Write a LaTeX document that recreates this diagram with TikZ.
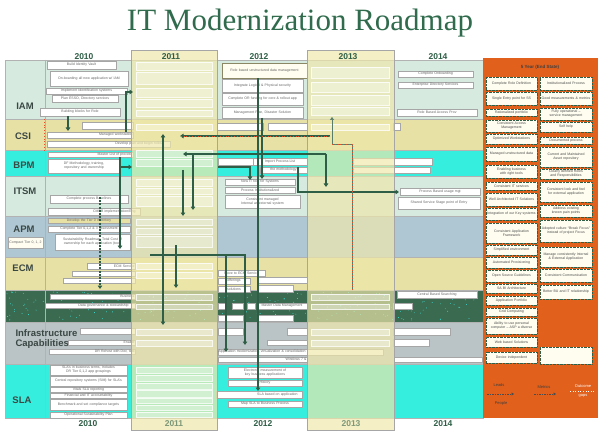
\documentclass[tikz,border=0pt]{standalone}
\usepackage{fontspec}
\setmainfont{Liberation Sans}
\newfontfamily\headserif{Liberation Serif}
\usetikzlibrary{arrows.meta}
\hyphenpenalty=10000
\exhyphenpenalty=10000
\definecolor{mint}{HTML}{D6EADF}
\definecolor{khaki}{HTML}{E8E1A6}
\definecolor{aqua}{HTML}{36EEDD}
\definecolor{steel}{HTML}{AFC7D3}
\definecolor{forest}{HTML}{3A6A50}
\definecolor{slate}{HTML}{BAC3C5}
\definecolor{veil}{HTML}{EFE8AA}
\definecolor{rust}{HTML}{E0601C}
\definecolor{ink}{HTML}{2E5E46}
\definecolor{ttl}{HTML}{2F6B4C}
\definecolor{paper}{HTML}{FFFDF0}
\definecolor{lblgray}{HTML}{3A4844}
\definecolor{ember}{HTML}{E8502A}
\definecolor{speck}{HTML}{3FE8E0}
% box given by its corners: [options]{name}{x1}{y1}{x2}{y2}{text}
\newcommand\bx[7][]{%
  \pgfmathsetmacro\bxw{#5-#3-1}%
  \pgfmathsetmacro\bxh{#6-#4}%
  \node[itm,text width=\bxw pt,minimum height=\bxh pt,#1] (#2) at ({(#3+#5)/2},{(#4+#6)/2}) {#7};}
\begin{document}
\begin{tikzpicture}[x=1pt,y=-1pt,
  itm/.style={draw=black!35,fill=white,font=\fontsize{3.5}{4}\selectfont,text=black!60,
    align=center,inner xsep=0.5pt,inner ysep=0.2pt,line width=0.4pt},
  obox/.style={itm,draw=ink,densely dotted,line width=0.9pt,fill=paper,text=black!70},
  ghost/.style={itm,draw=white,fill=white,fill opacity=0.35,draw opacity=0.8},
  rowlbl/.style={font=\bfseries\fontsize{9.5}{10}\selectfont,text=lblgray},
  yr/.style={font=\bfseries\fontsize{8.5}{9}\selectfont,text=ink},
  conn/.style={draw=ink,line width=1.4pt,-{Triangle[length=3.5pt,width=4.5pt]}},
  wire/.style={draw=ink!80,line width=0.7pt},
  emberdots/.style={draw=ember,line width=0.8pt,dotted},
  sep/.style={draw=black!30,line width=0.4pt},
  leg/.style={font=\fontsize{4}{4.5}\selectfont,text=black!75}]
\useasboundingbox (0,0) rectangle (600,433);
\fill[white] (0,0) rectangle (600,433);

% title
\node[font=\headserif\fontsize{31}{31}\selectfont,text=ttl] (title) at (300,23) {IT Modernization Roadmap};

% row bands
\fill[mint]   (5,60)  rectangle (483,119);
\fill[khaki]  (5,119) rectangle (483,150);
\fill[aqua]   (5,150) rectangle (483,176);
\fill[mint]   (5,176) rectangle (483,216);
\fill[steel]  (5,216) rectangle (483,257);
\fill[khaki]  (5,257) rectangle (483,290);
\fill[forest] (5,290) rectangle (483,322);
\fill[slate]  (5,322) rectangle (483,364);
\fill[aqua]   (5,364) rectangle (483,418);
% speckles on the dark band
\pgfmathsetseed{11}
\foreach \i in {1,...,260} {
  \pgfmathsetmacro\sx{7+474*rnd}
  \pgfmathsetmacro\sy{292+28*rnd}
  \fill[speck] (\sx,\sy) circle (0.45pt);
}
\foreach \yy in {119,150,176,216,257,290,322,364}
  \draw[sep] (5,\yy) -- (483,\yy);
\draw[sep] (5,60) rectangle (483,418);
\draw[sep] (45,60) -- (45,418);
\draw[sep] (217,60) -- (217,418);
\draw[sep] (394,60) -- (394,418);
\draw[emberdots] (44,119) -- (44,150);

% row labels
\node[rowlbl] (lIAM) at (25,106) {IAM};
\node[rowlbl] (lCSI) at (23,136) {CSI};
\node[rowlbl] (lBPM) at (24,165) {BPM};
\node[rowlbl] (lITSM) at (25,191) {ITSM};
\node[rowlbl] (lAPM) at (24,229) {APM};
\node[rowlbl] (lECM) at (23,268) {ECM};
\node[rowlbl,align=left,anchor=west] (lINF) at (12,339) {Infrastructure\\Capabilities};
\node[rowlbl] (lSLA) at (22,400) {SLA};
\bx[fill=paper]{ctier}{8}{237}{43}{248}{Compact Tier 0, 1, 2}

% 2010
\bx{b1}{47}{61}{116}{69}{Build Identity Vault}
\bx{b2}{50}{71}{128}{86}{On-boarding all new application w/ IAM}
\bx{b3}{46}{88}{127}{94}{Implement Identification systems}
\bx{b4}{52}{95}{118}{102}{Plan ESSO, Directory services}
\bx{b5}{40}{108}{120}{116}{Building blocks for Role}
\bx{c1}{82}{122}{133}{129}{}
\bx[align=right]{c2}{47}{132}{133}{138}{Managed workstation}
\bx[align=right]{c3}{47}{141}{170}{147}{Develop plan and begin rollout\hspace*{6pt}}
\bx[align=right]{p1}{48}{152}{133}{157}{Master List of process}
\bx{p2}{48}{159}{120}{173}{DF Methodology, training, repository and ownership}
\bx{s1}{50}{195}{128}{203}{Complete process Baselines}
\bx[align=right]{s2}{48}{208}{140}{215}{CMDB implementation/Eng\hspace*{4pt}}
\bx[fill=khaki]{a1}{48}{218}{130}{223}{Develop the Tier 0 inventory}
\bx{a2}{48}{226}{130}{232}{Complete Tier 0,1,2 \& 3 assessment}
\bx{a3}{55}{234}{130}{250}{Sustainability Roadmap; Total Cost of ownership for each application (tool)}
\bx[align=right]{e1}{87}{263}{135}{269}{ECM Service}
\bx{e2}{72}{271}{135}{276}{}
\bx{e3}{63}{278}{135}{283}{}
\bx[align=right]{d1}{50}{294}{135}{299}{Business}
\bx[align=right]{d2}{45}{303}{135}{308}{Data governance \& stewardship\hspace*{6pt}}
\bx{i1}{80}{328}{135}{334}{}
\bx[align=right]{i2}{68}{340}{135}{345}{Enable}
\bx[align=right]{i3}{49}{349}{135}{354}{DR Rehost with Dev, test}
\bx{l1}{50}{365}{127}{375}{SLA's in business terms, Includes DR Tier 0,1,2 app groupings}
\bx{l2}{50}{376}{127}{386}{Central repository systems (SIM) for SLA's}
\bx{l3}{50}{387}{127}{392}{Vitals SLA reporting}
\bx{l4}{50}{393}{127}{398}{Financial and IT accountability}
\bx{l5}{50}{399}{127}{410}{Benchmark and set compliance targets}
\bx{l6}{50}{412}{127}{418}{Operational Sustainability Plan}

% 2012
\bx[fill=paper,draw=khaki!60!black]{t1}{222}{63}{307}{78}{Role based unstructured data management}
\bx{t2}{222}{79}{303}{92}{Integrate Logical \& Physical security}
\bx{t3}{222}{93}{303}{105}{Complete OR funding for core \& rollout app}
\bx{t4}{222}{107}{303}{118}{Management Plan, Disaster Solution}
\bx{k1}{217}{123}{263}{130}{}
\bx{k2}{268}{123}{307}{130}{}
\bx{m0}{218}{158}{253}{165}{}
\bx{m1}{253}{158}{307}{165}{Import Process List}
\bx{m2}{260}{167}{307}{173}{the methodology}
\bx{n1}{225}{179}{295}{185}{New IT tool for Systems}
\bx{n2}{225}{187}{295}{193}{Process Institutionalized}
\bx{n3}{225}{195}{300}{208}{Consistent managed Internal as external system}
\bx{g1}{218}{270}{265}{276}{Move to ECM Service}
\bx{g2}{257}{277}{307}{283}{}
\bx{g3}{218}{278}{250}{284}{offerings}
\bx{g4}{257}{285}{293}{292}{}
\bx{g5}{218}{286}{250}{292}{solutions}
\bx{h1}{257}{303}{307}{309}{Master Data Management}
\bx{h2}{218}{303}{225}{309}{}
\bx{h3}{232}{303}{243}{309}{}
\bx{h4}{247}{303}{255}{309}{}
\bx{h5}{218}{315}{243}{321}{}
\bx{h6}{257}{315}{293}{321}{}
\bx{j1}{218}{328}{243}{335}{}
\bx{j2}{287}{328}{307}{335}{}
\bx{j3}{267}{340}{307}{345}{}
\bx[align=left]{j4}{218}{349}{383}{355}{Application modernization, virtualization \& consolidation}
\bx[align=right]{j5}{218}{357}{307}{362}{Windows 7 \&}
\bx{q1}{228}{367}{302}{378}{Electronic measurement of key business applications}
\bx{q2}{228}{380}{302}{386}{History}
\bx[align=right]{q3}{216}{391}{302}{398}{SLA based on application\hspace*{4pt}}
\bx{q4}{228}{401}{302}{407}{Map SLA to Business Process}

% 2014
\bx{w1}{398}{71}{473}{77}{Complete Onboarding}
\bx{w2}{398}{82}{473}{88}{Enterprise Directory Services}
\bx{w3}{397}{109}{477}{116}{Role Based Access Prov}
\bx{w4}{393}{123}{400}{130}{}
\bx{v1}{353}{158}{432}{165}{}
\bx{v2}{353}{167}{430}{173}{}
\bx{w5}{400}{188}{480}{195}{Process Based usage mgt}
\bx{w6}{398}{197}{480}{209}{Shared Service Stage point of Entry}
\bx{w7}{397}{291}{477}{298}{Central Based Searching}
\bx{w8}{393}{303}{412}{309}{}
\bx{w9}{393}{328}{450}{335}{}
\bx{w10}{393}{339}{429}{346}{}
\bx{w11}{394}{357}{482}{362}{}

% 2011 and 2013 columns, veiled
\fill[veil,opacity=0.7] (131,50) rectangle (217,430);
\fill[veil,opacity=0.68] (307,50) rectangle (394,430);
\draw[black!35,line width=0.5pt] (131,50) rectangle (217,430);
\draw[black!35,line width=0.5pt] (307,50) rectangle (394,430);
\foreach \ya/\yb [count=\i] in {62/70,72/84,88/97,99/107,110/116,124/130,150/157,159/166,179/186,188/194,
    196/206,219/225,228/234,236/247,263/269,272/278,294/300,304/309,329/335,340/346,
    367/373,375/381,383/389,390/397,398/403,405/410,412/417}
  \node[ghost,minimum width=76pt,minimum height={\yb-\ya}] (ga\i) at (174,{(\ya+\yb)/2}) {};
\foreach \ya/\yb [count=\i] in {67/78,82/92,95/105,107/115,124/130,294/300,304/309,329/335,340/346}
  \node[ghost,minimum width=78pt,minimum height={\yb-\ya}] (gb\i) at (350,{(\ya+\yb)/2}) {};

% years
\node[yr] (y10t) at (84,57) {2010};
\node[yr] (y11t) at (171,57) {2011};
\node[yr] (y12t) at (259,57) {2012};
\node[yr] (y13t) at (348,57) {2013};
\node[yr] (y14t) at (438,57) {2014};
\node[yr] (y10b) at (88,424) {2010};
\node[yr,opacity=0.6] (y11b) at (174,424) {2011};
\node[yr] (y12b) at (263,424) {2012};
\node[yr,opacity=0.6] (y13b) at (351,424) {2013};
\node[yr] (y14b) at (443,424) {2014};

% dependencies between initiatives
\coordinate (k1a) at (68,116);  \coordinate (k1b) at (68,131);
\draw[conn] (k1a) -- (k1b);
\coordinate (k2a) at (126,132); \coordinate (k2b) at (133,92);
\draw[conn] (k2a) |- (k2b);
\coordinate (k3a) at (258,78);  \coordinate (k3b) at (258,391);
\draw[conn] (k3a) -- (k3b);
\coordinate (k4a) at (262,118); \coordinate (k4b) at (262,179);
\draw[conn] (k4a) -- (k4b);
\coordinate (k5a) at (326,154); \coordinate (k5b) at (183,154); \coordinate (k5c) at (326,187);
\draw[conn] (k5a) -- (k5b);
\draw[conn] (k5a) -- (k5c);
\coordinate (k6a) at (120,157); \coordinate (k6b) at (120,249);
\draw[conn] (k6a) -- (k6b);
\coordinate (k7a) at (120,167); \coordinate (k7b) at (132,167);
\draw[conn] (k7a) -- (k7b);
\coordinate (k8a) at (100,197); \coordinate (k8b) at (100,289);
\draw[conn,dash pattern=on 2pt off 1.2pt] (k8a) -- (k8b);
\coordinate (k9a) at (193,155); \coordinate (k9b) at (193,210);
\draw[conn] (k9a) -- (k9b);
\coordinate (k10a) at (183,170); \coordinate (k10b) at (183,216);
\draw[conn] (k10a) -- (k10b);
\coordinate (k11a) at (218,167); \coordinate (k11b) at (250,180);
\draw[conn] (k11a) -| (k11b);
\coordinate (k12a) at (298,167); \coordinate (k12b) at (399,192);
\draw[conn] (k12a) |- (k12b);
\coordinate (k13a) at (352,290); \coordinate (k13m) at (332,144); \coordinate (k13b) at (332,117);
\draw[wire,-{Triangle[length=3pt,width=4pt]}] (k13a) |- (k13m) -- (k13b);
\draw[emberdots] (k13a) |- (k13m);
\coordinate (k14a) at (330,136); \coordinate (k14b) at (180,136);
\draw[conn] (k14a) -- (k14b);
\draw[emberdots] (k14a) -- (k14b);
\coordinate (k15a) at (163,325); \coordinate (k15b) at (163,134);
\draw[conn,{Triangle[length=3.5pt,width=4.5pt]}-{Triangle[length=3.5pt,width=4.5pt]}] (k15a) -- (k15b);
\coordinate (k16a) at (150,255); \coordinate (k16b) at (245,345);
\draw[conn] (k16a) -| (k16b);
\coordinate (k16c) at (226,255); \coordinate (k16d) at (226,352);
\draw[conn] (k16c) -- (k16d);
\coordinate (k17a) at (176,245); \coordinate (k17b) at (176,288);
\draw[conn] (k17a) -- (k17b);

% end state panel
\fill[rust] (483,58) rectangle (598,418);
\node[font=\bfseries\fontsize{4.5}{5}\selectfont,text=black!75] (endstate) at (540,67) {5 Year (End State)};
\bx[obox]{o1}{486}{77}{537}{90}{Complete Role Definition}
\bx[obox]{o2}{486}{92}{537}{105}{Single Entry point for SS}
\bx[obox]{o3}{486}{109}{537}{116}{Rationalized portfolio}
\bx[obox]{o4}{486}{120}{537}{132}{Consistent Access Management}
\bx[obox]{o5}{486}{134}{537}{144}{Optimized Workstations}
\bx[obox]{o6}{486}{147}{537}{161}{Managed unstructured data}
\bx[obox]{o7}{486}{165}{537}{178}{Enabling business with right tools}
\bx[obox]{o8}{486}{182}{537}{190}{Consistent IT services}
\bx[obox]{o9}{486}{193}{537}{206}{Well Architected IT Solutions}
\bx[obox]{o10}{486}{208}{537}{220}{Integration of our Key systems}
\bx[obox]{o11}{486}{223}{537}{243}{Consistent Application Framework}
\bx[obox]{o12}{486}{245}{537}{255}{Simplified environment}
\bx[obox]{o13}{486}{257}{537}{268}{Automated Provisioning}
\bx[obox]{o14}{486}{270}{537}{282}{Open Source Guidelines}
\bx[obox]{o15}{486}{284}{537}{293}{SA BI Architecture}
\bx[obox]{o16}{486}{296}{537}{305}{Application Portfolio}
\bx[obox]{o17}{486}{308}{537}{316}{Grid Computing}
\bx[obox]{o18}{486}{318}{537}{334}{Ability to use personal computer -- ASP a diverse}
\bx[obox]{o19}{486}{337}{537}{347}{Web based Solutions}
\bx[obox]{o20}{486}{352}{537}{363}{Device independent}
\bx[obox]{r1}{540}{77}{592}{90}{Institutionalized Process}
\bx[obox]{r2}{540}{92}{592}{105}{Good measurements \& metrics}
\bx[obox]{r3}{540}{108}{592}{120}{Fully operational -- service management}
\bx[obox]{r4}{540}{122}{592}{132}{Self help}
\bx[obox]{r5}{540}{137}{592}{144}{Documented process}
\bx[obox]{r6}{540}{147}{592}{167}{Current and Maintained Asset repository}
\bx[obox]{r7}{540}{169}{592}{179}{Clearly defined Roles and Responsibilities}
\bx[obox]{r8}{540}{182}{592}{202}{Consistent look and feel for external application}
\bx[obox]{r9}{540}{205}{592}{217}{Address existing known pain points}
\bx[obox]{r10}{540}{220}{592}{242}{Adopted culture ``Break Focus'' instead of project Focus}
\bx[obox]{r11}{540}{247}{592}{267}{Manage consistently Internal \& External Application}
\bx[obox]{r12}{540}{269}{592}{282}{Consistent Communication}
\bx[obox]{r13}{540}{285}{592}{299}{Better BU and IT relationship}
\bx[obox]{r14}{540}{347}{592}{364}{}

% legend
\node[leg] (lg1) at (499,385) {Leads};
\node[leg] (lg2) at (501,403) {People};
\coordinate (lga) at (487,394); \coordinate (lgb) at (514,394);
\draw[draw=black!70,line width=0.8pt,dash pattern=on 1.5pt off 1pt,-{Triangle[length=2.5pt,width=3pt]}] (lga) -- (lgb);
\node[leg] (lg3) at (544,387) {Metrics};
\coordinate (lgc) at (534,394); \coordinate (lgd) at (556,394);
\draw[draw=black!70,line width=0.8pt,dash pattern=on 1.5pt off 1pt,-{Triangle[length=2.5pt,width=3pt]}] (lgc) -- (lgd);
\node[leg,text=white] (lg4) at (583,386) {Outcome};
\node[leg,text=white] (lg5) at (583,396) {gaps};
\coordinate (lge) at (570,391); \coordinate (lgf) at (595,391);
\draw[draw=white,line width=0.6pt,dotted] (lge) -- (lgf);
\end{tikzpicture}
\end{document}
